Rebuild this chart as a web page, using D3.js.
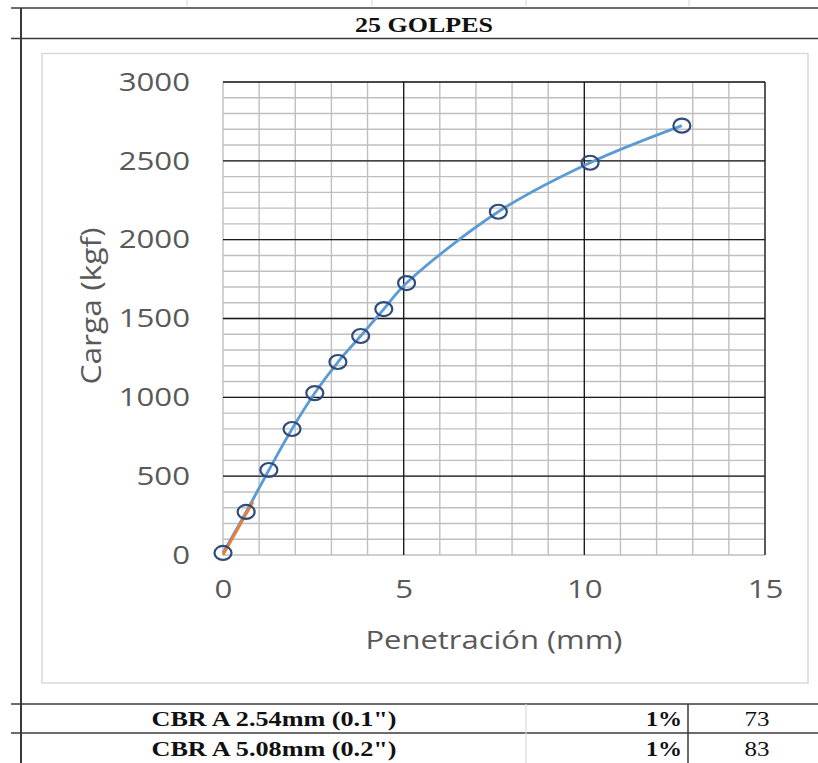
<!DOCTYPE html>
<html><head><meta charset="utf-8">
<script src="https://cdn.jsdelivr.net/npm/d3@7"></script>
<style>body{margin:0;background:#fff}svg{display:block}</style>
</head><body>
<svg id="c" width="818" height="763"></svg>
<script>
const title = "25 GOLPES";
const penetration = [0, 0.64, 1.27, 1.91, 2.54, 3.18, 3.81, 4.45, 5.08, 7.62, 10.16, 12.70];
const load = [13, 273, 539, 799, 1027, 1224, 1389, 1560, 1725, 2177, 2488, 2723];
const correctionX = [0, 0.83];
const correctionY = [0, 337];
const xTicks = [0, 5, 10, 15];
const yTicks = [0, 500, 1000, 1500, 2000, 2500, 3000];
const xLabel = "Penetración (mm)";
const yLabel = "Carga (kgf)";
const tableLabels = ['CBR A 2.54mm (0.1")', 'CBR A 5.08mm (0.2")'];
const tablePct = ["1%", "1%"];
const tableVals = ["73", "83"];

const svg = d3.select("#c");
const STRETCH = 1.2;
function stretch(sel, k) {
  sel.each(function () {
    const w = this.getComputedTextLength();
    d3.select(this).attr("textLength", w * (k || STRETCH)).attr("lengthAdjust", "spacingAndGlyphs");
  });
}

// sheet lines
const dark = "#3a3a3a";
svg.append("line").attr("x1", 11).attr("x2", 818).attr("y1", 8).attr("y2", 8).attr("stroke", dark).attr("stroke-width", 1.5);
svg.append("line").attr("x1", 11).attr("x2", 818).attr("y1", 38.5).attr("y2", 38.5).attr("stroke", dark).attr("stroke-width", 1.5);
svg.append("line").attr("x1", 21).attr("x2", 21).attr("y1", 8).attr("y2", 763).attr("stroke", dark).attr("stroke-width", 2);
[187, 372, 526, 689].forEach(x => svg.append("line").attr("x1", x).attr("x2", x).attr("y1", 0).attr("y2", 6).attr("stroke", "#d6d6d6").attr("stroke-width", 1));

svg.append("text").attr("x", 424).attr("y", 32).attr("text-anchor", "middle")
  .attr("font-family", "'Liberation Serif', serif").attr("font-weight", "bold").attr("font-size", 22)
  .attr("fill", "#111").attr("textLength", 138).attr("lengthAdjust", "spacingAndGlyphs").text(title);

// chart frame
svg.append("rect").attr("x", 42).attr("y", 53.5).attr("width", 766).attr("height", 629.5)
  .attr("fill", "#fff").attr("stroke", "#d9d9d9").attr("stroke-width", 1.5);

const x = d3.scaleLinear().domain([0, 15]).range([223, 765]);
const y = d3.scaleLinear().domain([0, 3000]).range([555, 82]);

const g = svg.append("g");
// minor grid
g.append("g").selectAll("line").data(d3.range(0, 15.01, 1)).join("line")
  .attr("x1", d => x(d)).attr("x2", d => x(d)).attr("y1", y(0)).attr("y2", y(3000))
  .attr("stroke", "#bfbfbf").attr("stroke-width", 1.4);
g.append("g").selectAll("line").data(d3.range(0, 3001, 100)).join("line")
  .attr("y1", d => y(d)).attr("y2", d => y(d)).attr("x1", x(0)).attr("x2", x(15))
  .attr("stroke", "#bfbfbf").attr("stroke-width", 1.4);
// major grid
g.append("g").selectAll("line").data(xTicks.filter(d => d > 0)).join("line")
  .attr("x1", d => x(d)).attr("x2", d => x(d)).attr("y1", y(0)).attr("y2", y(3000))
  .attr("stroke", "#1a1a1a").attr("stroke-width", 1.3);
g.append("g").selectAll("line").data(yTicks.filter(d => d > 0)).join("line")
  .attr("y1", d => y(d)).attr("y2", d => y(d)).attr("x1", x(0)).attr("x2", x(15))
  .attr("stroke", "#1a1a1a").attr("stroke-width", 1.3);

// axes (labels only)
const font = "'Open Sans', sans-serif";
const xa = svg.append("g").attr("transform", `translate(0,${y(0)})`)
  .call(d3.axisBottom(x).tickValues(xTicks).tickFormat(d3.format("d")).tickSize(0).tickPadding(30));
const ya = svg.append("g").attr("transform", `translate(${x(0)},0)`)
  .call(d3.axisLeft(y).tickValues(yTicks).tickFormat(d3.format("d")).tickSize(0).tickPadding(33));
[xa, ya].forEach(a => {
  a.select(".domain").remove();
  a.selectAll("text").attr("font-family", font).attr("font-size", 26).attr("fill", "#595959");
});
xa.selectAll("text").attr("dy", "0.5em");
stretch(xa.selectAll("text"));
stretch(ya.selectAll("text"));

svg.append("text").attr("x", 494).attr("y", 649).attr("text-anchor", "middle")
  .attr("font-family", font).attr("font-size", 26).attr("fill", "#595959")
  .attr("textLength", 257).attr("lengthAdjust", "spacingAndGlyphs").text(xLabel);
svg.append("text").attr("transform", "translate(101,306) rotate(-90)").attr("text-anchor", "middle")
  .attr("font-family", font).attr("font-size", 27).attr("fill", "#595959")
  .attr("textLength", 157).attr("lengthAdjust", "spacingAndGlyphs").text(yLabel);

// data
const pts = penetration.map((p, i) => [p, load[i]]);
const line = d3.line().x(d => x(d[0])).y(d => y(d[1])).curve(d3.curveCatmullRom.alpha(0.5));
svg.append("path").attr("d", line(pts)).attr("fill", "none").attr("stroke", "#5b9bd5").attr("stroke-width", 2.8);
const corr = correctionX.map((p, i) => [p, correctionY[i]]);
svg.append("path").attr("d", d3.line().x(d => x(d[0])).y(d => y(d[1]))(corr))
  .attr("fill", "none").attr("stroke", "#ed7d31").attr("stroke-width", 2.8);
svg.append("g").selectAll("ellipse").data(pts).join("ellipse")
  .attr("cx", d => x(d[0])).attr("cy", d => y(d[1])).attr("rx", 8.5).attr("ry", 7)
  .attr("fill", "none").attr("stroke", "#2f4b7c").attr("stroke-width", 2.2);

// bottom table
[704, 733].forEach(yy => svg.append("line").attr("x1", 11).attr("x2", 818).attr("y1", yy).attr("y2", yy).attr("stroke", dark).attr("stroke-width", 1.5));
svg.append("line").attr("x1", 526).attr("x2", 526).attr("y1", 704).attr("y2", 763).attr("stroke", "#d9d9d9").attr("stroke-width", 1.2);
svg.append("line").attr("x1", 688).attr("x2", 688).attr("y1", 704).attr("y2", 763).attr("stroke", dark).attr("stroke-width", 1.5);
const rowY = [726, 756];
const serif = "'Liberation Serif', serif";
tableLabels.forEach((t, i) => {
  svg.append("text").attr("x", 274).attr("y", rowY[i]).attr("text-anchor", "middle")
    .attr("font-family", serif).attr("font-weight", "bold").attr("font-size", 21).attr("fill", "#111")
    .attr("textLength", 245).attr("lengthAdjust", "spacingAndGlyphs").text(t);
  svg.append("text").attr("x", 682).attr("y", rowY[i]).attr("text-anchor", "end")
    .attr("font-family", serif).attr("font-weight", "bold").attr("font-size", 21).attr("fill", "#111")
    .attr("textLength", 36).attr("lengthAdjust", "spacingAndGlyphs").text(tablePct[i]);
  svg.append("text").attr("x", 757).attr("y", rowY[i]).attr("text-anchor", "middle")
    .attr("font-family", serif).attr("font-size", 21).attr("fill", "#111")
    .attr("textLength", 25).attr("lengthAdjust", "spacingAndGlyphs").text(tableVals[i]);
});
</script>
</body></html>
